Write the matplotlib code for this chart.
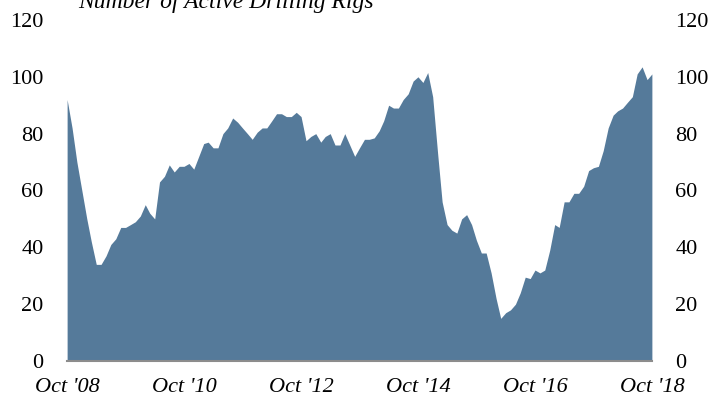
import numpy as np
import pandas as pd
import matplotlib
matplotlib.use("Agg")
import matplotlib.pyplot as plt

plt.rcParams['font.family'] = ['Liberation Serif', 'DejaVu Serif']

# monthly active rig count, Oct 2008 .. Oct 2018
months = pd.date_range('2008-10-01', '2018-10-01', freq='MS')
rigs = [
    92, 82, 70, 60, 50, 42, 34, 34, 37, 41, 43, 47,
    47, 48, 49, 51, 55, 52, 50, 63, 65, 69, 66.5, 68.5,
    68.5, 69.5, 67.5, 72, 76.5, 77, 75, 75, 80, 82, 85.5, 84,
    82, 80, 78, 80.5, 82, 82, 84.5, 87, 87, 86, 86, 87.5,
    86, 77.5, 79, 80, 77, 79, 80, 76, 76, 80, 76, 72,
    75, 78, 78, 78.5, 81, 84.5, 90, 89, 89, 92, 94, 98.5,
    100, 98, 101.5, 93, 73, 56, 48, 46, 45, 50, 51.5, 48,
    42.5, 38, 38, 31, 22, 15, 17, 18, 20, 24, 29.5, 29,
    32, 31, 32, 39, 48, 47, 56, 56, 59, 59, 61.5, 67,
    68, 68.5, 74, 82, 86.5, 88, 89, 91, 93, 101, 103.5, 99,
    101,
]

tick_dates = pd.date_range('2008-10-01', '2018-10-01', freq='24MS')
tick_labels = ["Oct '08", "Oct '10", "Oct '12", "Oct '14", "Oct '16", "Oct '18"]
y_ticks = [0, 20, 40, 60, 80, 100, 120]

fig = plt.figure(figsize=(7.14, 4.07), dpi=100)
ax = fig.add_axes([0.094, 0.113, 0.819, 0.838])

ax.fill_between(months, rigs, 0, color='#557a9a', linewidth=0)

ax.set_xlim(months[0], months[-1])
ax.set_ylim(0, 120)
ax.set_yticks(y_ticks)
ax.set_xticks(tick_dates)
ax.set_xticklabels(tick_labels, fontstyle='italic', fontsize=16)

for side in ['top', 'left', 'right']:
    ax.spines[side].set_visible(False)
ax.spines['bottom'].set_color('#8c8c8c')
ax.spines['bottom'].set_linewidth(1.5)

ax.tick_params(axis='y', length=0, labelsize=16, pad=17,
               labelleft=True, labelright=True)
ax.tick_params(axis='x', length=0, pad=12)

# title sits partly above the top edge of the figure
fig.text(0.109, 0.980, 'Number of Active Drilling Rigs',
         fontstyle='italic', fontsize=17, va='baseline', ha='left')

fig.savefig('out.png', dpi=100)
